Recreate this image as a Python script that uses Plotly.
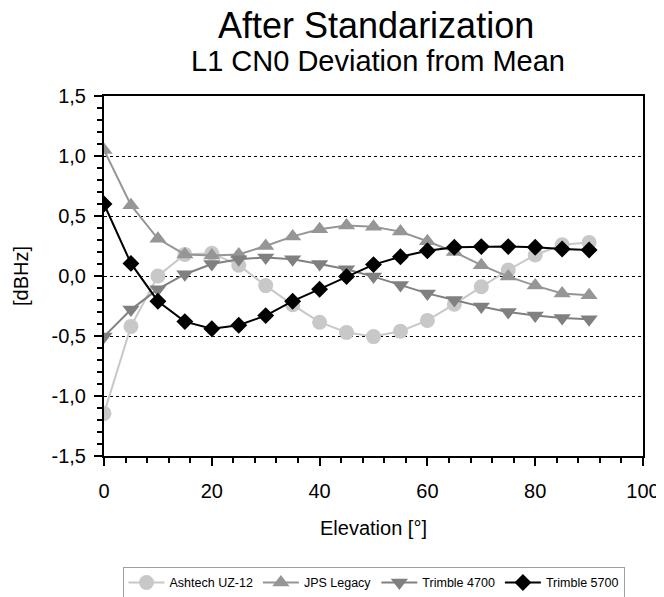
import plotly.graph_objects as go

elevation = [0, 5, 10, 15, 20, 25, 30, 35, 40, 45, 50, 55, 60, 65, 70, 75, 80, 85, 90]
ashtech = [-1.145, -0.42, 0.0, 0.18, 0.19, 0.09, -0.08, -0.24, -0.385, -0.47, -0.505,
           -0.46, -0.37, -0.235, -0.09, 0.05, 0.175, 0.26, 0.28]
jps = [1.05, 0.59, 0.31, 0.18, 0.17, 0.18, 0.25, 0.33, 0.39, 0.42, 0.41,
       0.37, 0.29, 0.20, 0.09, -0.005, -0.08, -0.145, -0.16]
trimble4700 = [-0.505, -0.28, -0.11, 0.015, 0.10, 0.14, 0.155, 0.14, 0.10, 0.056, -0.005,
               -0.075, -0.145, -0.20, -0.255, -0.30, -0.33, -0.35, -0.36]
trimble5700 = [0.60, 0.105, -0.21, -0.38, -0.44, -0.41, -0.33, -0.21, -0.11, -0.005, 0.095,
               0.16, 0.21, 0.24, 0.245, 0.245, 0.24, 0.225, 0.217]

y_tick_values = [-1.5, -1.0, -0.5, 0.0, 0.5, 1.0, 1.5]
y_tick_labels = ["-1,5", "-1,0", "-0,5", "0,0", "0,5", "1,0", "1,5"]
x_tick_values = [0, 20, 40, 60, 80, 100]
x_tick_labels = ["0", "20", "40", "60", "80", "100"]

series = [
    ("Ashtech UZ-12", ashtech, "#c8c8c8", "circle", 15),
    ("JPS Legacy", jps, "#969696", "triangle-up", 15),
    ("Trimble 4700", trimble4700, "#808080", "triangle-down", 15),
    ("Trimble 5700", trimble5700, "#000000", "diamond", 13),
]

fig = go.Figure()
for name, vals, col, sym, sz in series:
    fig.add_trace(go.Scatter(
        x=elevation, y=vals, name=name, mode="lines+markers",
        line=dict(color=col, width=2),
        marker=dict(symbol=sym, size=sz, color=col),
    ))

font = "Liberation Sans, Arial, sans-serif"
fig.update_layout(
    width=656, height=589,
    margin=dict(l=96, r=21, t=88, b=141, autoexpand=False),
    paper_bgcolor="white", plot_bgcolor="white",
    font=dict(family=font, color="black", size=18),
    showlegend=True,
    legend=dict(
        orientation="h", x=0.50, xanchor="center", y=-0.308, yanchor="top",
        bordercolor="#a0a0a0", borderwidth=1, font=dict(size=12.5, family=font),
        itemwidth=36,
    ),
    xaxis=dict(
        range=[0, 100], tickvals=x_tick_values, ticktext=x_tick_labels,
        showline=True, linecolor="black", linewidth=2, mirror=True,
        ticks="outside", ticklen=8, tickwidth=2, tickcolor="black",
        minor=dict(dtick=4, tick0=0, ticks="outside", ticklen=5, tickwidth=1.5, tickcolor="black"),
        showgrid=False, zeroline=False, automargin=False,
        ticklabelstandoff=8,
        title=dict(text="Elevation [°]", font=dict(size=20), standoff=20),
        tickfont=dict(size=20),
    ),
    yaxis=dict(
        range=[-1.5, 1.5], tickvals=y_tick_values, ticktext=y_tick_labels,
        showline=True, linecolor="black", linewidth=2, mirror=True,
        ticks="outside", ticklen=8, tickwidth=2, tickcolor="black",
        minor=dict(dtick=0.1, tick0=0, ticks="outside", ticklen=5, tickwidth=1.5, tickcolor="black"),
        showgrid=True, gridcolor="black", gridwidth=1, griddash="dot",
        zeroline=False, automargin=False,
        ticklabelstandoff=4,
        title=dict(text="[dBHz]", font=dict(size=20), standoff=18),
        tickfont=dict(size=20),
    ),
    annotations=[
        dict(text="After Standarization", xref="paper", yref="paper",
             x=0.505, y=1.195, xanchor="center", yanchor="middle",
             showarrow=False, font=dict(size=36, family=font)),
        dict(text="L1 CN0 Deviation from Mean", xref="paper", yref="paper",
             x=0.508, y=1.097, xanchor="center", yanchor="middle",
             showarrow=False, font=dict(size=29, family=font)),
    ],
)

fig.write_html("out.html")
